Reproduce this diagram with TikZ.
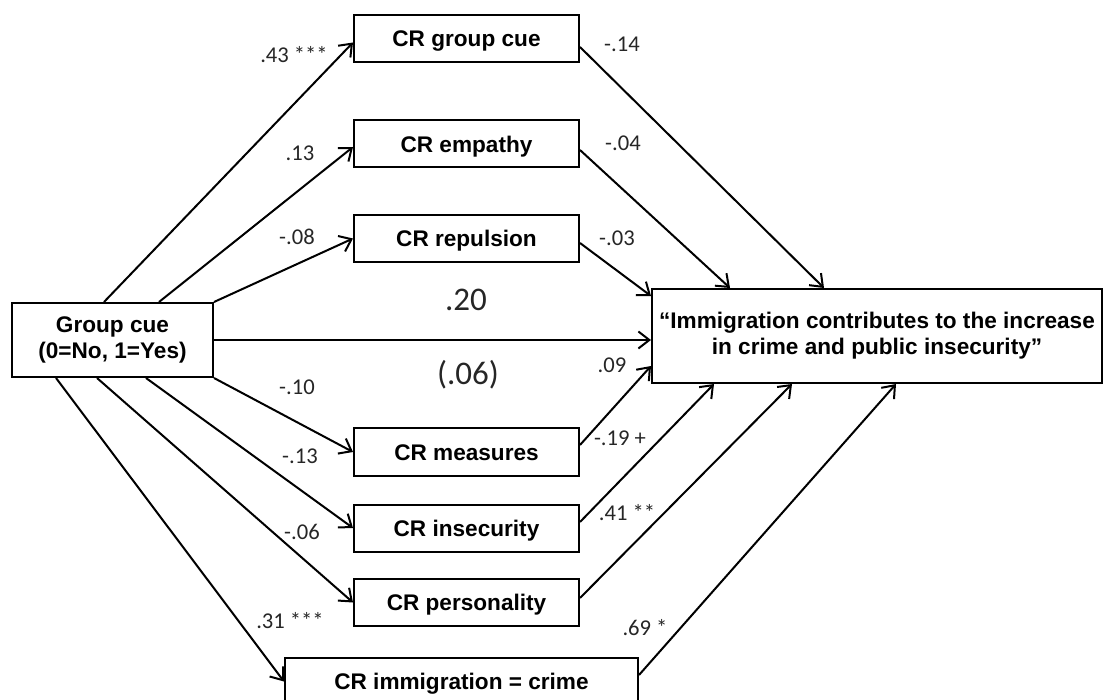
\documentclass[tikz,border=0pt]{standalone}
\usepackage{fontspec}
\setmainfont{Liberation Sans}
\newfontfamily\calib{Carlito}
\usetikzlibrary{arrows.meta}
\begin{document}
\begin{tikzpicture}[x=0.5pt,y=-0.5pt,line width=1pt,
  >={Straight Barb[length=5.5pt,width=8.5pt]},
  box/.style={draw,inner sep=0pt,align=center,minimum width=112.5pt,minimum height=23.5pt,
    font=\fontsize{11.3}{13}\selectfont\bfseries},
  onel/.style={text height=8.1pt,text depth=0pt},
  coef/.style={font=\calib\fontsize{11.3}{13}\selectfont,text=black!85},
  big/.style={font=\calib\fontsize{16.5}{18}\selectfont,text=black!85}]
\useasboundingbox (0,0) rectangle (1104,700);
% boxes
\node[box,minimum width=100.5pt,minimum height=37pt] (grp) at (112.5,340) {Group cue\\(0=No, 1=Yes)};
\node[box,onel] (gcue) at (466.5,38.5) {CR group cue};
\node[box,onel] (emp) at (466.5,144) {CR empathy};
\node[box,onel] (rep) at (466.5,238.5) {CR repulsion};
\node[box,onel] (meas) at (466.5,452) {CR measures};
\node[box,onel] (insec) at (466.5,528) {CR insecurity};
\node[box,onel] (pers) at (466.5,602.5) {CR personality};
\node[box,onel,minimum width=176.5pt] (imm) at (461.5,681.5) {CR immigration = crime};
\node[box,minimum width=225pt,minimum height=47pt] (out) at (877,336) {``Immigration contributes to the increase\\in crime and public insecurity''};
% paths from group cue
\draw[->] ([xshift=46.5pt]grp.north west) -- ([yshift=-2pt]gcue.west);
\draw[->] ([xshift=74pt]grp.north west) -- ([yshift=-1.5pt]emp.west);
\draw[->] (grp.north east) -- (rep.west);
\draw[->] (grp.east) -- (grp.east -| out.west);
\draw[->] (grp.south east) -- (meas.west);
\draw[->] ([xshift=67.5pt]grp.south west) -- (insec.west);
\draw[->] ([xshift=43pt]grp.south west) -- (pers.west);
\draw[->] ([xshift=22.5pt]grp.south west) -- (imm.west);
% paths to the outcome
\draw[->] ([yshift=-4.25pt]gcue.east) -- ([xshift=86.5pt]out.north west);
\draw[->] ([yshift=-3pt]emp.east) -- ([xshift=39.5pt]out.north west);
\draw[->] ([yshift=-2.25pt]rep.east) -- ([yshift=-4pt]out.north west);
\draw[->] ([yshift=3.5pt]meas.east) -- ([yshift=9pt]out.south west);
\draw[->] ([yshift=3pt]insec.east) -- ([xshift=31.5pt]out.south west);
\draw[->] ([yshift=2.25pt]pers.east) -- ([xshift=70.5pt]out.south west);
\draw[->] ([yshift=3.25pt]imm.east) -- ([xshift=122.5pt]out.south west);
% coefficients
\node[coef] (c1) at (294,55) {.43 ***};
\node[coef] (c2) at (300,153) {.13};
\node[coef] (c3) at (297,237) {-.08};
\node[coef] (c4) at (297,387) {-.10};
\node[coef] (c5) at (300,456) {-.13};
\node[coef] (c6) at (302,532) {-.06};
\node[coef] (c7) at (290,621) {.31 ***};
\node[coef] (d1) at (622,44) {-.14};
\node[coef] (d2) at (623,143) {-.04};
\node[coef] (d3) at (617,238) {-.03};
\node[coef] (d4) at (612,365) {.09};
\node[coef] (d5) at (620,438) {-.19 +};
\node[coef] (d6) at (627,513) {.41 **};
\node[coef] (d7) at (645,628) {.69 *};
\node[big] (tot) at (466,300) {.20};
\node[big] (dir) at (468,375) {(.06)};
\end{tikzpicture}
\end{document}
